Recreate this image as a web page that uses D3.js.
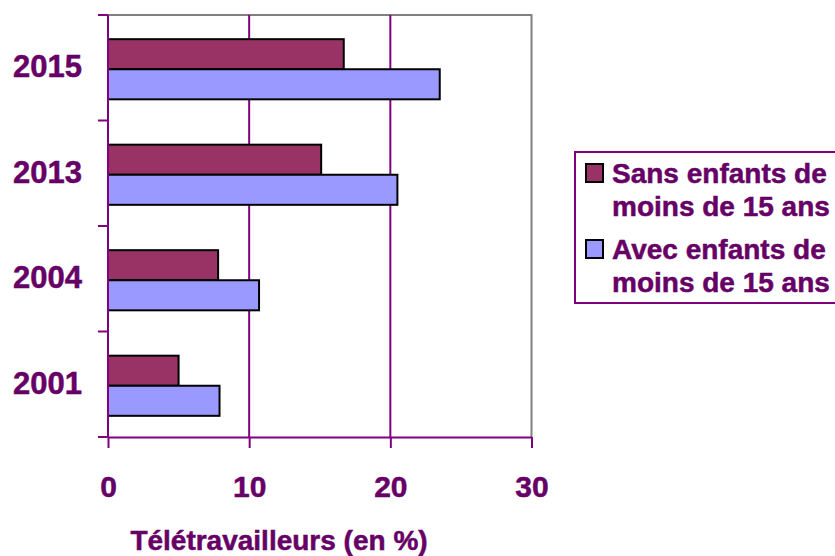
<!DOCTYPE html>
<html>
<head>
<meta charset="utf-8">
<script src="https://cdn.jsdelivr.net/npm/d3@7"></script>
<style>
  body { margin: 0; background: #fff; }
  svg text { font-family: "Liberation Sans", Arial, sans-serif; font-weight: bold; fill: #660066; stroke: #660066; stroke-width: 0.5px; }
</style>
</head>
<body>
<script>
// categories (top to bottom) and series values
var years = ['2015', '2013', '2004', '2001'];
var sansEnfants = [16.7, 15.1, 7.8, 5.0];
var avecEnfants = [23.5, 20.5, 10.7, 7.9];
var seriesNames = ['Sans enfants de|moins de 15 ans', 'Avec enfants de|moins de 15 ans'];
var xTicks = [0, 10, 20, 30];

var colors = ['#993366', '#9999FF'];
var purple = '#800080';

var margin = { top: 15, left: 108 },
    width = 423.5,
    height = 422;

var svg = d3.select('body').append('svg')
    .attr('width', 835)
    .attr('height', 556);

var g = svg.append('g')
    .attr('transform', 'translate(' + margin.left + ',' + margin.top + ')');

var x = d3.scaleLinear().domain([0, 30]).range([0, width]);
var y0 = d3.scaleBand().domain(years).range([1.5, height + 1.5]).paddingInner(0.43).paddingOuter(0.215);
var y1 = d3.scaleBand().domain([0, 1]).range([0, y0.bandwidth()]);

// plot frame: grey top/right
g.append('path')
    .attr('d', 'M0,0H' + width + 'V' + height)
    .attr('fill', 'none')
    .attr('stroke', '#808080')
    .attr('stroke-width', 2);

// vertical gridlines
g.selectAll('.grid')
    .data(xTicks.slice(1, 3))
    .enter().append('line')
    .attr('x1', d => x(d)).attr('x2', d => x(d))
    .attr('y1', 0).attr('y2', height)
    .attr('stroke', purple)
    .attr('stroke-width', 2);

// bars
var table = years.map((yr, i) => ({ year: yr, vals: [sansEnfants[i], avecEnfants[i]] }));

var groups = g.selectAll('.grp')
    .data(table)
    .enter().append('g')
    .attr('transform', d => 'translate(0,' + y0(d.year) + ')');

groups.selectAll('rect')
    .data(d => d.vals)
    .enter().append('rect')
    .attr('x', 0)
    .attr('y', (d, i) => y1(i))
    .attr('width', d => x(d))
    .attr('height', y1.bandwidth())
    .attr('fill', (d, i) => colors[i])
    .attr('stroke', '#000')
    .attr('stroke-width', 2);

// bottom axis
var xAxis = g.append('g')
    .attr('transform', 'translate(0,' + height + ')')
    .call(d3.axisBottom(x).tickValues(xTicks).tickSize(11).tickPadding(28).tickSizeOuter(0));
xAxis.selectAll('line, path').attr('stroke', purple).attr('stroke-width', 2);
xAxis.selectAll('text').style('font-size', '30px').attr('fill', '#660066').attr('dy', '0.71em');

// left axis, ticks at category boundaries
var step = y0.step();
var bounds = d3.range(years.length + 1).map(i => i * step);
g.append('line')
    .attr('x1', 0).attr('x2', 0).attr('y1', 0).attr('y2', height)
    .attr('stroke', purple).attr('stroke-width', 2);
g.selectAll('.ytick')
    .data(bounds)
    .enter().append('line')
    .attr('x1', -10).attr('x2', 0)
    .attr('y1', d => d).attr('y2', d => d)
    .attr('stroke', purple).attr('stroke-width', 2);

g.selectAll('.ylab')
    .data(years)
    .enter().append('text')
    .attr('x', -26)
    .attr('y', d => y0(d) + y0.bandwidth() / 2 - 3)
    .attr('dy', '0.36em')
    .attr('text-anchor', 'end')
    .style('font-size', '31px')
    .text(d => d);

// axis title
svg.append('text')
    .attr('x', 279)
    .attr('y', 550)
    .attr('text-anchor', 'middle')
    .style('font-size', '28px')
    .text('Télétravailleurs (en %)');

// legend
var leg = svg.append('g').attr('transform', 'translate(575,152)');
leg.append('rect')
    .attr('x', 0).attr('y', 0)
    .attr('width', 300).attr('height', 151)
    .attr('fill', 'none')
    .attr('stroke', purple)
    .attr('stroke-width', 2);

var items = leg.selectAll('.item')
    .data(seriesNames)
    .enter().append('g')
    .attr('transform', (d, i) => 'translate(0,' + (i * 76) + ')');

items.append('rect')
    .attr('x', 11).attr('y', 12)
    .attr('width', 17).attr('height', 18)
    .attr('fill', (d, i) => colors[i])
    .attr('stroke', '#000')
    .attr('stroke-width', 2);

items.append('text')
    .attr('x', 37)
    .attr('y', 31)
    .style('font-size', '28px')
    .selectAll('tspan')
    .data(d => d.split('|'))
    .enter().append('tspan')
    .attr('x', 37)
    .attr('dy', (d, i) => i ? 33 : 0)
    .text(d => d);
</script>
</body>
</html>
